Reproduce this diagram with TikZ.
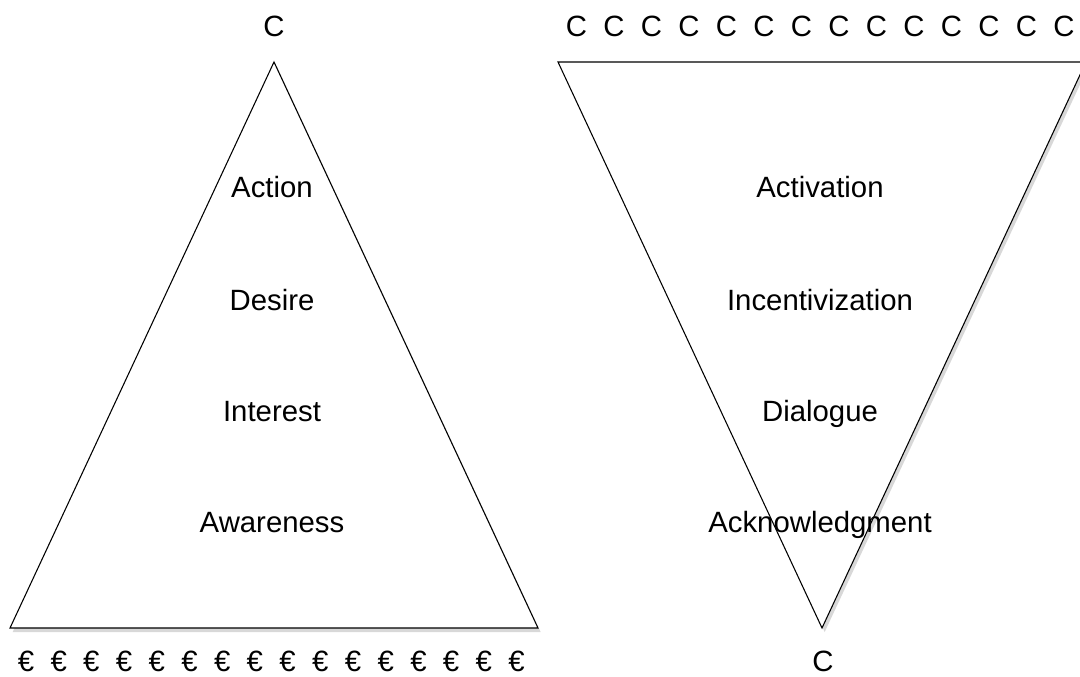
\documentclass[tikz,border=0pt]{standalone}
\usepackage{fontspec}
\setmainfont{Liberation Sans}
\usetikzlibrary{shadows}

\tikzset{
  funnel/.style={draw=black, line width=0.8pt, fill=white, line join=miter,
    drop shadow={opacity=0.3, shadow xshift=2pt, shadow yshift=-3pt}},
  stage/.style={font=\fontsize{22}{26}\selectfont, inner sep=0pt, anchor=base},
}

\begin{document}
\begin{tikzpicture}[x=0.75pt,y=-0.75pt]
	\clip (0,0) rectangle (1080,677);
	\fill[white] (0,0) rectangle (1080,677);
	% left pyramid
	\coordinate (atop) at (274,62);
	\coordinate (aleft) at (10,628);
	\coordinate (aright) at (538,628);
	\path[funnel] (atop) -- (aleft) -- (aright) -- cycle;
	% right funnel
	\coordinate (fleft) at (558,62);
	\coordinate (fright) at (1086,62);
	\coordinate (fbottom) at (822,628);
	\path[funnel] (fleft) -- (fright) -- (fbottom) -- cycle;
	% stages
	\node[stage] (action) at (272,198) {Action};
	\node[stage] (desire) at (272,310) {Desire};
	\node[stage] (interest) at (272,421) {Interest};
	\node[stage] (awareness) at (272,532) {Awareness};
	\node[stage] (activation) at (820,198) {Activation};
	\node[stage] (incentive) at (820,310) {Incentivization};
	\node[stage] (dialogue) at (820,421) {Dialogue};
	\node[stage] (acknowledge) at (820,532) {Acknowledgment};
	% customers and money
	\node[stage] (ctop) at (274,37) {C};
	\node[stage] (cbottom) at (823,671) {C};
	\foreach \i in {0,...,13}
		\node[stage] (c\i) at (576.5+37.5*\i,37) {C};
	\foreach \i in {0,...,15}
		\node[stage] (e\i) at (26+32.7*\i,671) {€};
\end{tikzpicture}
\end{document}
